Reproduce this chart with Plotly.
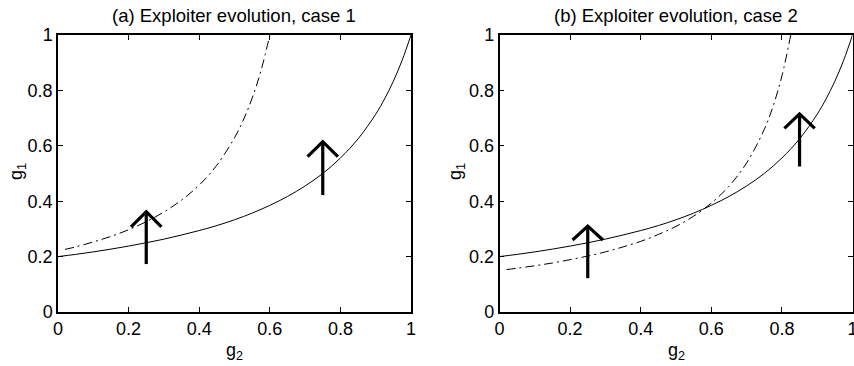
import plotly.graph_objects as go

# ---- data ----
solid_g2 = [0.0, 0.05, 0.1, 0.15, 0.2, 0.25, 0.3, 0.35, 0.4, 0.45, 0.5, 0.55, 0.6,
            0.65, 0.7, 0.75, 0.8, 0.85, 0.9, 0.925, 0.95, 0.975, 1.0]
solid_g1 = [0.200, 0.208, 0.217, 0.227, 0.238, 0.250, 0.263, 0.278, 0.294, 0.312, 0.333,
            0.357, 0.385, 0.417, 0.455, 0.500, 0.556, 0.625, 0.714, 0.769, 0.833, 0.909, 1.0]

dash_a_g2 = [0.02, 0.05, 0.1, 0.15, 0.2, 0.25, 0.3, 0.35, 0.4, 0.45, 0.5, 0.525, 0.55, 0.575, 0.6]
dash_a_g1 = [0.226, 0.235, 0.253, 0.273, 0.297, 0.326, 0.361, 0.404, 0.458, 0.530, 0.629,
             0.693, 0.772, 0.871, 1.0]

dash_b_g2 = [0.02, 0.05, 0.1, 0.15, 0.2, 0.25, 0.3, 0.35, 0.4, 0.45, 0.5, 0.55, 0.6, 0.65,
             0.7, 0.75, 0.775, 0.8, 0.825]
dash_b_g1 = [0.153, 0.158, 0.167, 0.177, 0.189, 0.202, 0.217, 0.235, 0.255, 0.280, 0.309,
             0.346, 0.393, 0.454, 0.538, 0.659, 0.743, 0.852, 1.0]

# arrows: position, base, tip, wing level, half width of head
arrows_a_x = [0.25, 0.75]
arrows_a_base = [0.173, 0.422]
arrows_a_tip = [0.362, 0.615]
arrows_a_wing = [0.307, 0.561]
arrows_b_x = [0.25, 0.85]
arrows_b_base = [0.122, 0.525]
arrows_b_tip = [0.310, 0.715]
arrows_b_wing = [0.260, 0.663]
head_half = 0.043

tick_vals = [0, 0.2, 0.4, 0.6, 0.8, 1]
tick_text = ["0", "0.2", "0.4", "0.6", "0.8", "1"]
titles = ["(a) Exploiter evolution, case 1", "(b) Exploiter evolution, case 2"]

FONT = "Liberation Sans, Arial, Helvetica, sans-serif"
W, H = 854, 366
MT, MB = 35, 54
PH = H - MT - MB

fig = go.Figure()

def add_panel(idx, dash_x, dash_y, ax, abase, atip, awing):
    xa = "x" if idx == 0 else "x2"
    ya = "y" if idx == 0 else "y2"
    fig.add_trace(go.Scatter(x=solid_g2, y=solid_g1, mode="lines", line_shape="spline",
                             line=dict(color="black", width=1), xaxis=xa, yaxis=ya,
                             showlegend=False, hoverinfo="skip"))
    fig.add_trace(go.Scatter(x=dash_x, y=dash_y, mode="lines", line_shape="spline",
                             line=dict(color="black", width=1, dash="9px,4px,2px,4px"),
                             xaxis=xa, yaxis=ya, showlegend=False, hoverinfo="skip"))
    for x, b, t, w in zip(ax, abase, atip, awing):
        fig.add_trace(go.Scatter(x=[x, x], y=[b, t], mode="lines",
                                 line=dict(color="black", width=3.2),
                                 xaxis=xa, yaxis=ya, showlegend=False, hoverinfo="skip"))
        fig.add_trace(go.Scatter(x=[x - head_half, x, x + head_half], y=[w, t, w], mode="lines",
                                 line=dict(color="black", width=3.2),
                                 xaxis=xa, yaxis=ya, showlegend=False, hoverinfo="skip"))

add_panel(0, dash_a_g2, dash_a_g1, arrows_a_x, arrows_a_base, arrows_a_tip, arrows_a_wing)
add_panel(1, dash_b_g2, dash_b_g1, arrows_b_x, arrows_b_base, arrows_b_tip, arrows_b_wing)

def px(p):
    return p / W

def py(p):
    return (H - MB - p) / PH

dom1 = [px(58), px(411)]
dom2 = [px(499.5), px(852.5)]

axis_common = dict(range=[0, 1], tickvals=tick_vals, ticktext=tick_text, ticks="inside",
                   ticklen=5, tickwidth=1, tickcolor="black", showline=True, linecolor="black",
                   linewidth=1.5, mirror="allticks", showgrid=False, zeroline=False,
                   automargin=False, ticklabeloverflow="allow",
                   tickfont=dict(family=FONT, size=18, color="black"), fixedrange=True)

fig.update_layout(
    width=W, height=H,
    margin=dict(l=0, r=0, t=MT, b=MB, autoexpand=False),
    paper_bgcolor="white", plot_bgcolor="white",
    xaxis=dict(domain=dom1, anchor="y", **axis_common),
    yaxis=dict(domain=[0, 1], anchor="x", **axis_common),
    xaxis2=dict(domain=dom2, anchor="y2", **axis_common),
    yaxis2=dict(domain=[0, 1], anchor="x2", **axis_common),
)

ann = []
for i, dom in enumerate([dom1, dom2]):
    cx = (dom[0] + dom[1]) / 2
    ann.append(dict(text=titles[i], x=cx, y=py(15), xref="paper", yref="paper",
                    showarrow=False, xanchor="center", yanchor="middle",
                    font=dict(family=FONT, size=18.5, color="black")))
    ann.append(dict(text="g<sub>2</sub>", x=cx, y=py(351), xref="paper", yref="paper",
                    showarrow=False, xanchor="center", yanchor="middle",
                    font=dict(family=FONT, size=18, color="black")))
ann.append(dict(text="g<sub>1</sub>", x=px(17), y=py(172), xref="paper", yref="paper",
                showarrow=False, xanchor="center", yanchor="middle", textangle=-90,
                font=dict(family=FONT, size=18, color="black")))
ann.append(dict(text="g<sub>1</sub>", x=px(456), y=py(172), xref="paper", yref="paper",
                showarrow=False, xanchor="center", yanchor="middle", textangle=-90,
                font=dict(family=FONT, size=18, color="black")))
fig.update_layout(annotations=ann)

fig.write_html("out.html", config={"displayModeBar": False},
               post_script="document.body.style.margin='0';document.body.style.overflow='hidden';")
